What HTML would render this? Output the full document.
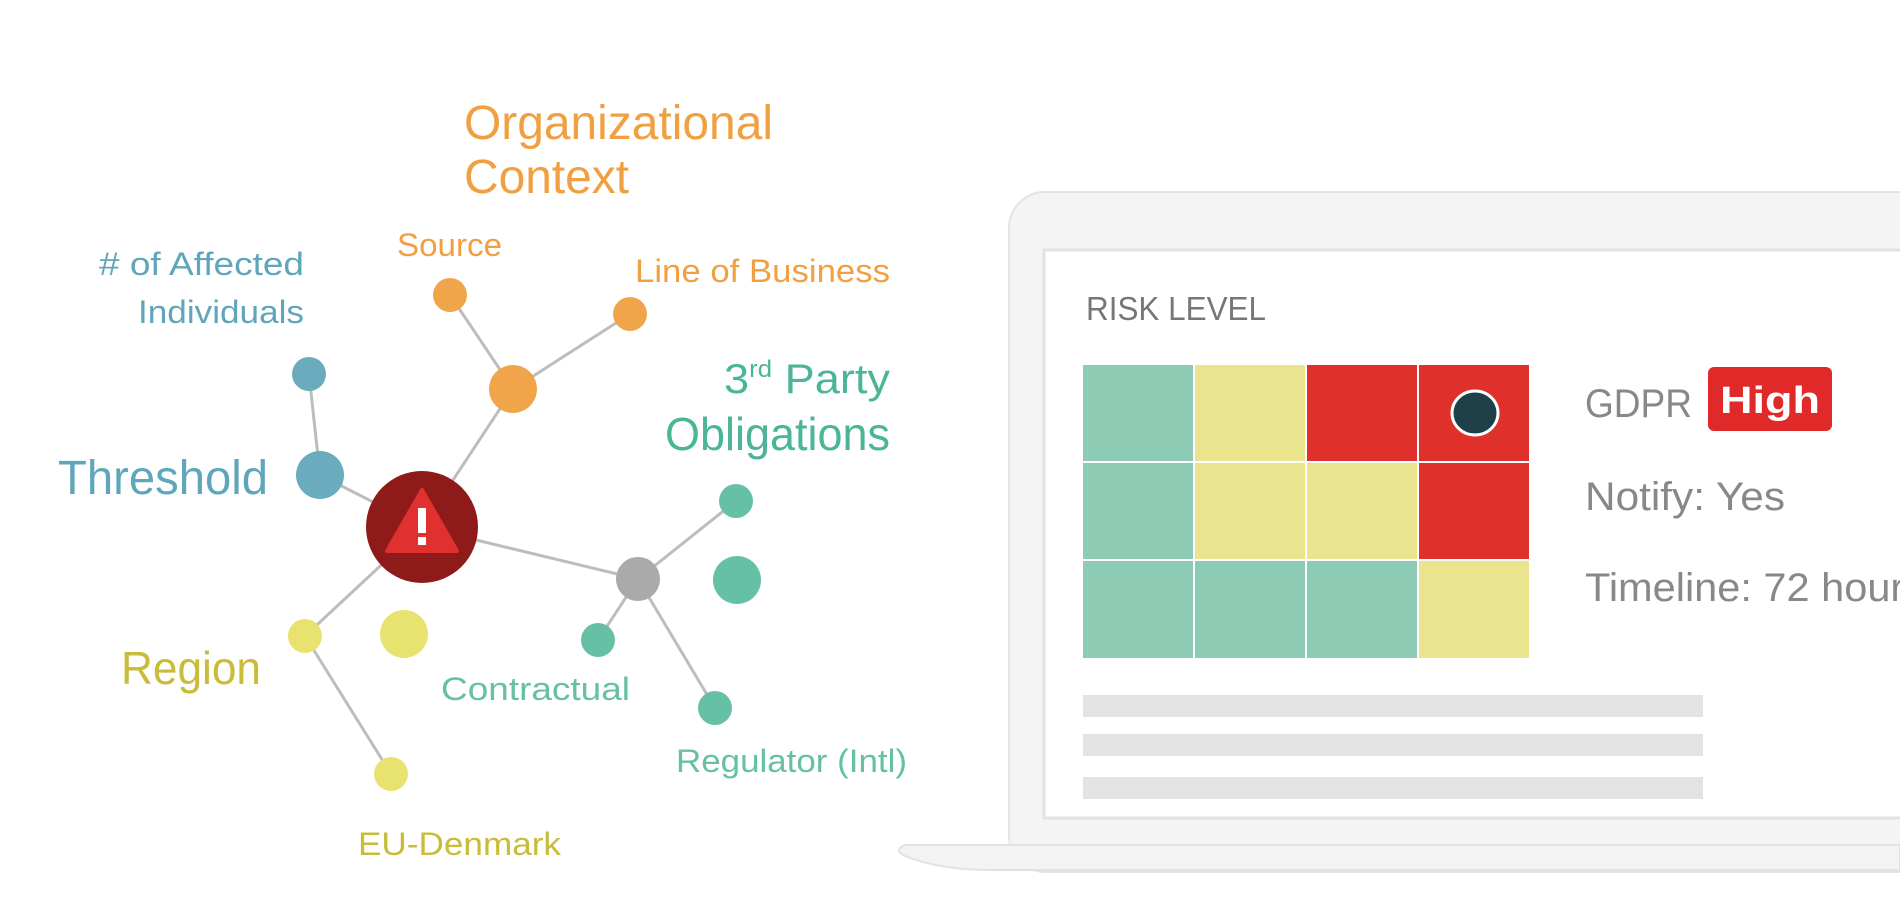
<!DOCTYPE html>
<html><head><meta charset="utf-8"><style>
html,body{margin:0;padding:0;background:#fff;}
svg{display:block;}
text{font-family:"Liberation Sans",sans-serif;}
</style></head><body>
<svg width="1900" height="916" viewBox="0 0 1900 916" xmlns="http://www.w3.org/2000/svg">
<rect width="1900" height="916" fill="#fff"/>
<!-- connectors -->
<g stroke="#bdbdbd" stroke-width="3" fill="none">
<line x1="450" y1="295" x2="513" y2="389"/>
<line x1="630" y1="314" x2="513" y2="389"/>
<line x1="513" y1="389" x2="422" y2="527"/>
<line x1="309" y1="374" x2="320" y2="475"/>
<line x1="320" y1="475" x2="422" y2="527"/>
<line x1="422" y1="527" x2="638" y2="579"/>
<line x1="638" y1="579" x2="736" y2="501"/>
<line x1="638" y1="579" x2="598" y2="640"/>
<line x1="638" y1="579" x2="715" y2="708"/>
<line x1="422" y1="527" x2="305" y2="636"/>
<line x1="305" y1="636" x2="391" y2="774"/>
</g>
<!-- nodes -->
<circle cx="450" cy="295" r="17" fill="#f0a54a"/>
<circle cx="630" cy="314" r="17" fill="#f0a54a"/>
<circle cx="513" cy="389" r="24" fill="#f0a54a"/>
<circle cx="309" cy="374" r="17" fill="#6aabbd"/>
<circle cx="320" cy="475" r="24" fill="#6aabbd"/>
<circle cx="638" cy="579" r="22" fill="#aaaaaa"/>
<circle cx="736" cy="501" r="17" fill="#66c0a5"/>
<circle cx="737" cy="580" r="24" fill="#66c0a5"/>
<circle cx="598" cy="640" r="17" fill="#66c0a5"/>
<circle cx="715" cy="708" r="17" fill="#66c0a5"/>
<circle cx="305" cy="636" r="17" fill="#e8e26f"/>
<circle cx="404" cy="634" r="24" fill="#e8e26f"/>
<circle cx="391" cy="774" r="17" fill="#e8e26f"/>
<circle cx="422" cy="527" r="56" fill="#8f1a1a"/>
<path d="M422 490 L457 551 L387 551 Z" fill="#e03030" stroke="#e03030" stroke-width="4" stroke-linejoin="round"/>
<rect x="418" y="508" width="8" height="25" fill="#fff"/>
<rect x="418" y="537" width="8" height="8" fill="#fff"/>
<!-- labels -->
<g fill="#f0a040">
<text x="464" y="139" font-size="48" textLength="309" lengthAdjust="spacingAndGlyphs">Organizational</text>
<text x="464" y="193" font-size="48" textLength="165" lengthAdjust="spacingAndGlyphs">Context</text>
<text x="397" y="256" font-size="32" textLength="105" lengthAdjust="spacingAndGlyphs">Source</text>
<text x="635" y="282" font-size="32" textLength="255" lengthAdjust="spacingAndGlyphs">Line of Business</text>
</g>
<g fill="#5fa6bb">
<text x="304" y="275" font-size="32" text-anchor="end" textLength="205" lengthAdjust="spacingAndGlyphs"># of Affected</text>
<text x="304" y="323" font-size="32" text-anchor="end" textLength="166" lengthAdjust="spacingAndGlyphs">Individuals</text>
<text x="58" y="494" font-size="48" textLength="210" lengthAdjust="spacingAndGlyphs">Threshold</text>
</g>
<g fill="#4bb598">
<text x="724" y="393" font-size="42" textLength="166" lengthAdjust="spacingAndGlyphs">3<tspan font-size="24" dy="-16">rd</tspan><tspan dy="16"> Party</tspan></text>
<text x="890" y="450" font-size="46" text-anchor="end" textLength="225" lengthAdjust="spacingAndGlyphs">Obligations</text>
</g>
<g fill="#66c0a5">
<text x="441" y="700" font-size="32" textLength="189" lengthAdjust="spacingAndGlyphs">Contractual</text>
<text x="676" y="772" font-size="32" textLength="231" lengthAdjust="spacingAndGlyphs">Regulator (Intl)</text>
</g>
<g fill="#c8bc3a">
<text x="121" y="684" font-size="46" textLength="140" lengthAdjust="spacingAndGlyphs">Region</text>
<text x="358" y="855" font-size="32" textLength="203" lengthAdjust="spacingAndGlyphs">EU-Denmark</text>
</g>
<!-- laptop -->
<rect x="1009" y="192" width="960" height="680" rx="36" fill="#f4f4f4" stroke="#e4e4e4" stroke-width="2"/>
<rect x="1044" y="250" width="900" height="568" fill="#fff" stroke="#e2e2e2" stroke-width="3"/>
<path d="M1900 845 L905 845 Q893 850 905 856 Q940 870 990 870 L1900 870 Z" fill="#f3f3f3" stroke="#e2e2e2" stroke-width="2"/>
<text x="1086" y="320" font-size="33" fill="#777" textLength="180" lengthAdjust="spacingAndGlyphs">RISK LEVEL</text>
<!-- grid -->
<g>
<rect x="1083" y="365" width="446" height="293" fill="#fff"/>
<rect x="1083" y="365" width="110" height="96" fill="#8ecbb5"/>
<rect x="1195" y="365" width="110" height="96" fill="#ebe48f"/>
<rect x="1307" y="365" width="110" height="96" fill="#e0302c"/>
<rect x="1419" y="365" width="110" height="96" fill="#e0302c"/>
<rect x="1083" y="463" width="110" height="96" fill="#8ecbb5"/>
<rect x="1195" y="463" width="110" height="96" fill="#ebe48f"/>
<rect x="1307" y="463" width="110" height="96" fill="#ebe48f"/>
<rect x="1419" y="463" width="110" height="96" fill="#e0302c"/>
<rect x="1083" y="561" width="110" height="97" fill="#8ecbb5"/>
<rect x="1195" y="561" width="110" height="97" fill="#8ecbb5"/>
<rect x="1307" y="561" width="110" height="97" fill="#8ecbb5"/>
<rect x="1419" y="561" width="110" height="97" fill="#ebe48f"/>
</g>
<ellipse cx="1475" cy="413" rx="23" ry="22" fill="#1f4049" stroke="#fff" stroke-width="3"/>
<text x="1585" y="417" font-size="40" fill="#888" textLength="107" lengthAdjust="spacingAndGlyphs">GDPR</text>
<rect x="1708" y="367" width="124" height="64" rx="6" fill="#e02a2a"/>
<text x="1770" y="413" font-size="38" font-weight="bold" fill="#fff" text-anchor="middle" textLength="100" lengthAdjust="spacingAndGlyphs">High</text>
<text x="1585" y="510" font-size="40" fill="#888" textLength="200" lengthAdjust="spacingAndGlyphs">Notify: Yes</text>
<text x="1585" y="601" font-size="40" fill="#888" textLength="340" lengthAdjust="spacingAndGlyphs">Timeline: 72 hours</text>
<rect x="1083" y="695" width="620" height="22" fill="#e3e3e3"/>
<rect x="1083" y="734" width="620" height="22" fill="#e3e3e3"/>
<rect x="1083" y="777" width="620" height="22" fill="#e3e3e3"/>
</svg>
</body></html>
